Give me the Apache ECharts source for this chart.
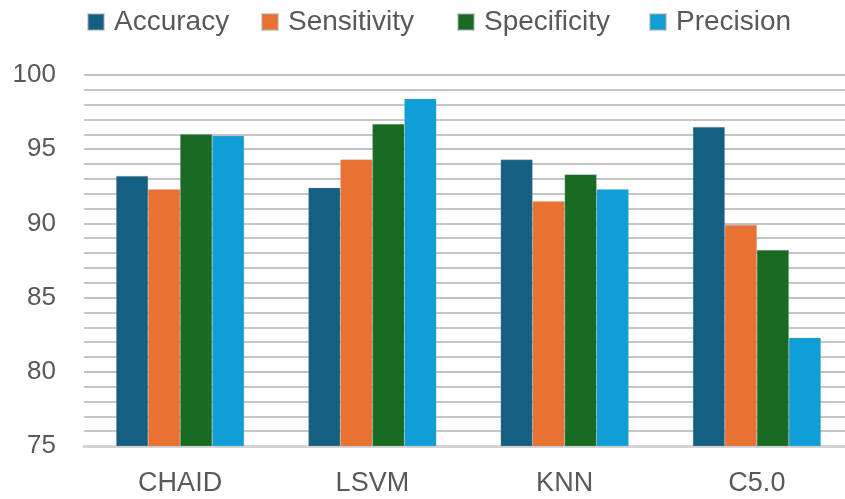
<!DOCTYPE html>
<html>
<head>
<meta charset="utf-8">
<script src="https://cdn.jsdelivr.net/npm/echarts@6/dist/echarts.min.js"></script>
<style>
  html, body { margin: 0; padding: 0; background: #fff; }
  #chart { width: 845px; height: 499px; }
</style>
</head>
<body>
<div id="chart"></div>
<script>
// Model names on the category axis
const models = ['CHAID', 'LSVM', 'KNN', 'C5.0'];

// Metric values per model (percent)
const accuracy    = [93.2, 92.4, 94.3, 96.5];
const sensitivity = [92.3, 94.3, 91.5, 89.9];
const specificity = [96.0, 96.7, 93.3, 88.2];
const precision   = [95.9, 98.4, 92.3, 82.3];

const metricNames  = ['Accuracy', 'Sensitivity', 'Specificity', 'Precision'];
const metricValues = [accuracy, sensitivity, specificity, precision];
const metricColors = ['#156082', '#E97132', '#196B24', '#0F9ED5'];

// Left edge of each legend entry along the top row
const legendLefts = [87, 261, 457, 649];

const yMin = 75, yMax = 100, yStep = 5;

const textColor = '#595959';
const fontFamily = 'Arial, "Liberation Sans", sans-serif';

const chart = echarts.init(document.getElementById('chart'), null, { renderer: 'canvas' });

chart.setOption({
  animation: false,
  color: metricColors,
  textStyle: { fontFamily: fontFamily },
  legend: metricNames.map((name, i) => ({
    top: 4,
    left: legendLefts[i],
    padding: [4, 0, 0, 0],
    itemWidth: 16,
    itemHeight: 16,
    icon: 'rect',
    textStyle: { fontSize: 28, color: textColor, fontFamily: fontFamily, padding: [0, 0, 0, 5] },
    data: [name]
  })),
  grid: {
    left: 84,
    top: 75,
    right: -8,
    bottom: 53,
    containLabel: false,
    outerBoundsMode: 'none'
  },
  xAxis: {
    type: 'category',
    data: models,
    axisTick: { show: false },
    axisLine: { show: true, lineStyle: { color: '#d4d4d4', width: 3 } },
    axisLabel: { fontSize: 27, color: textColor, margin: 24, fontFamily: fontFamily }
  },
  yAxis: {
    type: 'value',
    min: yMin,
    max: yMax,
    interval: yStep,
    axisLine: { show: false },
    axisTick: { show: false },
    axisLabel: { fontSize: 26, color: textColor, margin: 28, fontFamily: fontFamily },
    splitLine: { show: true, lineStyle: { color: '#c2c2c2', width: 2 } },
    minorTick: { show: false, splitNumber: 5 },
    minorSplitLine: { show: true, lineStyle: { color: '#c6c6c6', width: 2 } }
  },
  series: metricNames.map((name, i) => ({
    name: name,
    type: 'bar',
    data: metricValues[i],
    barWidth: 32,
    barGap: '0%',
    itemStyle: { color: metricColors[i], borderColor: 'rgba(170,170,170,0.5)', borderWidth: 0.5 }
  }))
});
</script>
</body>
</html>
